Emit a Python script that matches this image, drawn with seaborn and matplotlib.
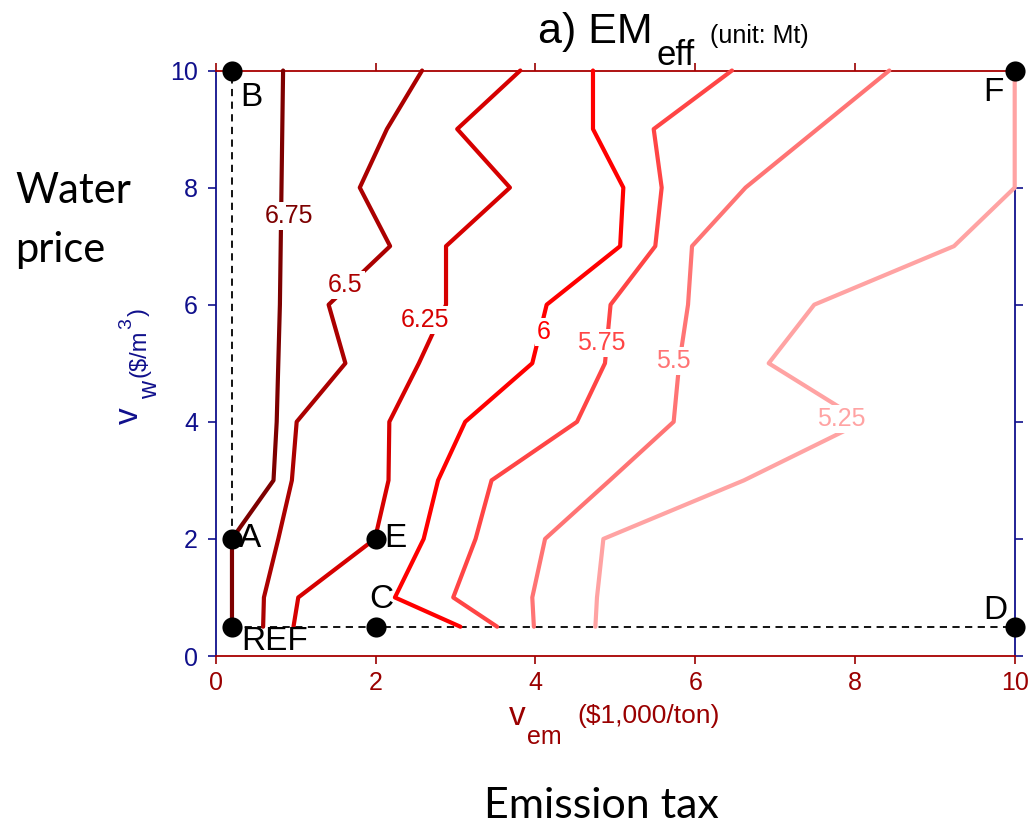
import numpy as np
import pandas as pd
import matplotlib
matplotlib.use("Agg")
import matplotlib.pyplot as plt
import seaborn as sns

# ---------------- data ----------------
y_grid = [0.5, 1, 2, 3, 4, 5, 6, 7, 8, 9, 10]
x_675 = [0.20, 0.20, 0.20, 0.72, 0.76, 0.78, 0.80, 0.81, 0.82, 0.83, 0.84]
x_650 = [0.59, 0.60, 0.78, 0.95, 1.01, 1.62, 1.41, 2.18, 1.80, 2.14, 2.58]
x_625 = [0.97, 1.03, 1.99, 2.16, 2.17, 2.54, 2.88, 2.88, 3.68, 3.02, 3.81]
x_600 = [3.06, 2.24, 2.60, 2.78, 3.12, 3.96, 4.14, 5.06, 5.10, 4.72, 4.72]
x_575 = [3.52, 2.97, 3.25, 3.45, 4.52, 4.87, 4.94, 5.50, 5.58, 5.48, 6.46]
x_550 = [3.98, 3.96, 4.12, 4.93, 5.73, 5.80, 5.91, 5.96, 6.63, 7.53, 8.43]
x_525 = [4.75, 4.77, 4.85, 6.61, 8.10, 6.92, 7.49, 9.24, 10.0, 10.0, 10.0]

levels = ["6.75", "6.5", "6.25", "6", "5.75", "5.5", "5.25"]
level_x = [x_675, x_650, x_625, x_600, x_575, x_550, x_525]
level_colors = ["#7d0000", "#ab0000", "#d60000", "#ff0000", "#ff4545", "#ff7474", "#ffa3a3"]
# contour label positions (data coords)
label_x = [0.91, 1.62, 2.62, 4.10, 4.83, 5.73, 7.83]
label_y = [7.52, 6.34, 5.74, 5.54, 5.35, 5.03, 4.05]

point_names = ["REF", "A", "B", "C", "D", "E", "F"]
point_x = [0.2, 0.2, 0.2, 2.0, 10.0, 2.0, 10.0]
point_y = [0.5, 2.0, 10.0, 0.5, 0.5, 2.0, 10.0]

ticks = [0, 2, 4, 6, 8, 10]
tick_labels = ["0", "2", "4", "6", "8", "10"]

# ---------------- style ----------------
sns.set_style("white")
plt.rcParams["font.family"] = ["Liberation Sans", "DejaVu Sans"]

W, H = 1033, 826
fig = plt.figure(figsize=(W / 100, H / 100), dpi=100)
ax = fig.add_axes([216 / W, 1 - 656 / H, (1014.7 - 216) / W, (656 - 70.5) / H])

NAVY = "#10108c"
DRED = "#9a0000"

rows = []
for lev, xs in zip(levels, level_x):
    for order, (xv, yv) in enumerate(zip(xs, y_grid)):
        rows.append({"level": lev, "x": xv, "y": yv, "order": order})
df = pd.DataFrame(rows)

palette = dict(zip(levels, level_colors))
sns.lineplot(data=df, x="x", y="y", hue="level", palette=palette, sort=False,
             estimator=None, legend=False, linewidth=3.0, ax=ax, clip_on=False,
             zorder=3)

# contour labels
for lev, lx, ly, c in zip(levels, label_x, label_y, level_colors):
    ax.text(lx, ly, lev, color=c, fontsize=18, ha="center", va="center", zorder=5,
            bbox=dict(facecolor="white", edgecolor="none", pad=1.5))

# dashed guide lines REF->B and REF->D
pts = dict(zip(point_names, zip(point_x, point_y)))
ax.plot([pts["REF"][0], pts["B"][0]], [pts["REF"][1], pts["B"][1]], color="black",
        linestyle=(0, (4, 3)), linewidth=1.3, zorder=2)
ax.plot([pts["REF"][0], pts["D"][0]], [pts["REF"][1], pts["D"][1]], color="black",
        linestyle=(0, (4, 3)), linewidth=1.3, zorder=2)

# points
pdf = pd.DataFrame({"name": point_names, "x": point_x, "y": point_y})
sns.scatterplot(data=pdf, x="x", y="y", color="black", s=210, edgecolor="black",
                linewidth=0, ax=ax, zorder=6, clip_on=False, legend=False)

# point labels: offsets in pixels
offsets = {
    "REF": (9, -15, "left", "center"),
    "A": (7, 0, "left", "center"),
    "B": (8, -27, "left", "center"),
    "C": (6, 27, "center", "center"),
    "D": (-7, 16, "right", "center"),
    "E": (9, 0, "left", "center"),
    "F": (-11, -22, "right", "center"),
}
for n, xv, yv in zip(point_names, point_x, point_y):
    dx, dy, ha, va = offsets[n]
    ax.annotate(n, (xv, yv), xytext=(dx, dy), textcoords="offset pixels",
                ha=ha, va=va, fontsize=24, color="black", zorder=7,
                annotation_clip=False)

# axes
ax.set_xlim(0, 10)
ax.set_ylim(0, 10)
ax.set_xticks(ticks)
ax.set_xticklabels(tick_labels)
ax.set_yticks(ticks)
ax.set_yticklabels(tick_labels)
ax.set_xlabel("")
ax.set_ylabel("")
ax.tick_params(axis="x", which="both", direction="out", length=6, width=1.2,
               colors=DRED, labelsize=18, pad=5, top=True, bottom=True,
               labeltop=False, labelbottom=True)
ax.tick_params(axis="y", which="both", direction="out", length=6, width=1.2,
               colors=NAVY, labelsize=18, pad=7, left=True, right=True,
               labelleft=True, labelright=False)
for side in ["top", "bottom"]:
    ax.spines[side].set_color("#a80000")
    ax.spines[side].set_linewidth(1.3)
for side in ["left", "right"]:
    ax.spines[side].set_color(NAVY)
    ax.spines[side].set_linewidth(1.3)
ax.set_facecolor("white")


def T(px, py, s, **kw):
    return fig.text(px / W, 1 - py / H, s, **kw)


# title
T(653, 43, "a) EM", fontsize=31, ha="right", va="baseline", color="black")
T(657, 65, "eff", fontsize=25, ha="left", va="baseline", color="black")
T(710, 43, "(unit: Mt)", fontsize=18, ha="left", va="baseline", color="black")

# x label pieces
T(509, 725, "v", fontsize=24, ha="left", va="baseline", color=DRED)
T(527, 744, "em", fontsize=18, ha="left", va="baseline", color=DRED)
T(577, 723, "($1,000/ton)", fontsize=19, ha="left", va="baseline", color=DRED)

# y label pieces (rotated)
rk = dict(rotation=90, rotation_mode="anchor", ha="left", va="baseline", color=NAVY)
T(138, 424, "v", fontsize=24, **rk)
T(157, 399, "w", fontsize=18, **rk)
T(145, 377, "($/m", fontsize=17, **rk)
T(131, 329, "3", fontsize=14, **rk)
T(145, 316, ")", fontsize=17, **rk)

# outer annotations
T(15, 203, "Water", fontsize=30, ha="left", va="baseline", color="black",
  family=["Lato", "DejaVu Sans"])
T(15, 262, "price", fontsize=30, ha="left", va="baseline", color="black",
  family=["Lato", "DejaVu Sans"])
T(601, 818, "Emission tax", fontsize=31, ha="center", va="baseline", color="black",
  family=["Lato", "DejaVu Sans"])

fig.savefig("out.png", dpi=100, facecolor="white")
